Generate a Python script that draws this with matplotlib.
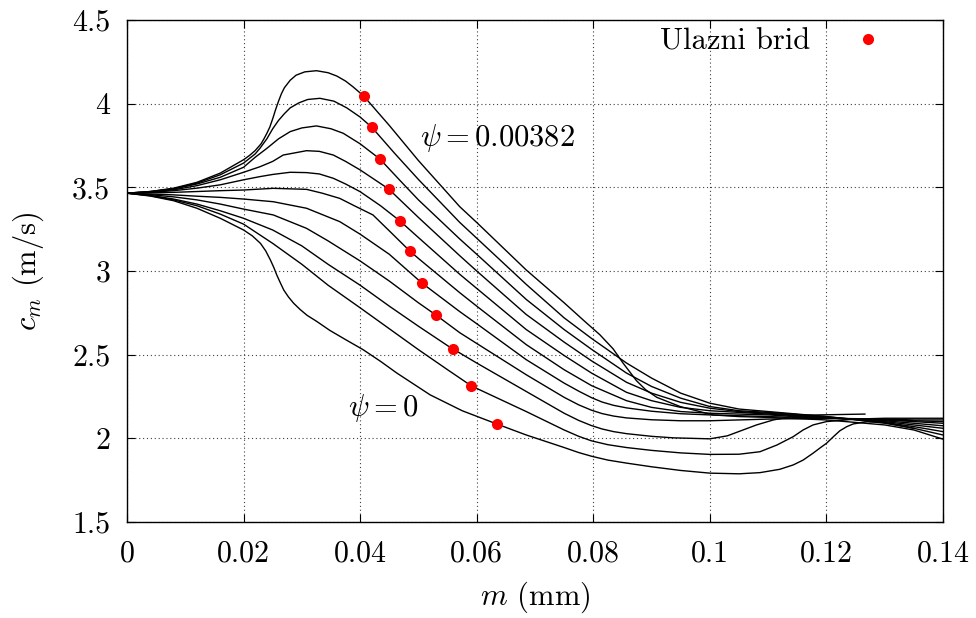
import matplotlib
matplotlib.use("Agg")
import matplotlib.pyplot as plt
from matplotlib.ticker import FuncFormatter

plt.rcParams['font.family'] = 'serif'
plt.rcParams['font.serif'] = ['cmr10']
plt.rcParams['mathtext.fontset'] = 'cm'
plt.rcParams['axes.formatter.use_mathtext'] = True

# ---- data ----
m_01 = [0, 0.004, 0.008, 0.012, 0.016, 0.02, 0.021, 0.022, 0.023, 0.0235, 0.024, 0.0245, 0.025, 0.0255, 0.026, 0.0265, 0.027, 0.028, 0.029, 0.0305, 0.0325, 0.0345, 0.036, 0.0375, 0.0388, 0.0406, 0.045, 0.05, 0.0571, 0.06, 0.0685, 0.075, 0.0785, 0.0811, 0.0834, 0.0851, 0.0874, 0.089, 0.0909, 0.0949, 0.1005, 0.105, 0.11, 0.12, 0.13, 0.135, 0.14]
cm_01 = [3.465, 3.475, 3.495, 3.53, 3.585, 3.665, 3.69, 3.72, 3.76, 3.79, 3.823, 3.86, 3.91, 3.965, 4.015, 4.06, 4.095, 4.14, 4.17, 4.19, 4.197, 4.185, 4.165, 4.135, 4.10, 4.046, 3.87, 3.66, 3.384, 3.29, 3.006, 2.81, 2.70, 2.62, 2.535, 2.45, 2.345, 2.29, 2.245, 2.19, 2.14, 2.13, 2.125, 2.11, 2.08, 2.05, 1.995]

m_02 = [0, 0.004, 0.008, 0.012, 0.016, 0.02, 0.022, 0.0228, 0.024, 0.025, 0.026, 0.027, 0.028, 0.0295, 0.031, 0.0331, 0.0355, 0.0377, 0.04, 0.042, 0.046, 0.05, 0.0571, 0.06, 0.0685, 0.075, 0.0797, 0.0857, 0.09, 0.095, 0.1, 0.105, 0.11, 0.12, 0.13, 0.135, 0.14]
cm_02 = [3.465, 3.475, 3.492, 3.525, 3.575, 3.645, 3.70, 3.733, 3.79, 3.85, 3.90, 3.94, 3.975, 4.005, 4.025, 4.032, 4.015, 3.975, 3.92, 3.859, 3.70, 3.547, 3.29, 3.196, 2.92, 2.72, 2.597, 2.45, 2.36, 2.27, 2.21, 2.175, 2.16, 2.13, 2.09, 2.06, 2.02]

m_03 = [0, 0.004, 0.008, 0.012, 0.016, 0.02, 0.022, 0.024, 0.026, 0.028, 0.030, 0.0325, 0.035, 0.0371, 0.04, 0.0434, 0.047, 0.05, 0.0571, 0.06, 0.0685, 0.075, 0.0797, 0.0857, 0.09, 0.095, 0.1, 0.105, 0.11, 0.12, 0.13, 0.135, 0.14]
cm_03 = [3.465, 3.474, 3.49, 3.52, 3.56, 3.62, 3.68, 3.733, 3.79, 3.833, 3.855, 3.867, 3.85, 3.823, 3.76, 3.669, 3.535, 3.425, 3.191, 3.10, 2.83, 2.65, 2.532, 2.39, 2.31, 2.24, 2.19, 2.165, 2.155, 2.13, 2.095, 2.07, 2.04]

m_04 = [0, 0.004, 0.008, 0.012, 0.016, 0.02, 0.0228, 0.025, 0.0268, 0.0308, 0.033, 0.0354, 0.0375, 0.040, 0.0449, 0.05, 0.0571, 0.06, 0.0685, 0.075, 0.0797, 0.0857, 0.09, 0.095, 0.1, 0.105, 0.11, 0.12, 0.13, 0.135, 0.14]
cm_04 = [3.465, 3.472, 3.485, 3.51, 3.545, 3.59, 3.623, 3.655, 3.693, 3.719, 3.715, 3.693, 3.655, 3.604, 3.49, 3.32, 3.091, 3.00, 2.74, 2.575, 2.463, 2.335, 2.27, 2.215, 2.18, 2.16, 2.15, 2.125, 2.10, 2.08, 2.06]

m_05 = [0, 0.004, 0.008, 0.012, 0.016, 0.02, 0.0228, 0.025, 0.028, 0.0308, 0.033, 0.0354, 0.0375, 0.040, 0.0435, 0.0468, 0.05, 0.0571, 0.06, 0.0685, 0.075, 0.0797, 0.0857, 0.09, 0.095, 0.1, 0.105, 0.11, 0.12, 0.13, 0.135, 0.14]
cm_05 = [3.465, 3.47, 3.48, 3.495, 3.515, 3.545, 3.564, 3.577, 3.590, 3.588, 3.58, 3.554, 3.52, 3.474, 3.39, 3.30, 3.20, 2.98, 2.896, 2.65, 2.495, 2.39, 2.275, 2.225, 2.185, 2.165, 2.155, 2.145, 2.125, 2.105, 2.09, 2.075]

m_06 = [0, 0.004, 0.008, 0.012, 0.016, 0.02, 0.0251, 0.0308, 0.0335, 0.0365, 0.039, 0.0422, 0.045, 0.0485, 0.05, 0.0571, 0.06, 0.0685, 0.075, 0.0797, 0.0857, 0.09, 0.095, 0.1, 0.105, 0.11, 0.12, 0.13, 0.135, 0.14]
cm_06 = [3.465, 3.467, 3.47, 3.475, 3.48, 3.484, 3.494, 3.488, 3.465, 3.434, 3.39, 3.335, 3.24, 3.12, 3.075, 2.87, 2.79, 2.56, 2.41, 2.315, 2.225, 2.185, 2.16, 2.15, 2.145, 2.14, 2.12, 2.11, 2.10, 2.09]

m_07 = [0, 0.004, 0.008, 0.012, 0.016, 0.02, 0.0251, 0.0308, 0.0365, 0.04, 0.045, 0.0506, 0.0571, 0.06, 0.0685, 0.075, 0.0775, 0.0797, 0.0815, 0.0835, 0.0857, 0.09, 0.095, 0.1, 0.105, 0.11, 0.12, 0.13, 0.135, 0.14]
cm_07 = [3.465, 3.46, 3.455, 3.447, 3.44, 3.43, 3.414, 3.375, 3.295, 3.22, 3.10, 2.928, 2.757, 2.685, 2.47, 2.33, 2.282, 2.243, 2.217, 2.197, 2.182, 2.162, 2.147, 2.14, 2.135, 2.13, 2.12, 2.11, 2.105, 2.10]

m_08 = [0, 0.004, 0.008, 0.012, 0.016, 0.02, 0.0251, 0.0308, 0.0345, 0.04, 0.045, 0.05, 0.053, 0.0571, 0.06, 0.0685, 0.075, 0.0775, 0.0797, 0.0815, 0.0835, 0.0857, 0.09, 0.095, 0.1, 0.105, 0.11, 0.12, 0.13, 0.135, 0.14]
cm_08 = [3.465, 3.456, 3.443, 3.425, 3.40, 3.37, 3.335, 3.255, 3.18, 3.06, 2.94, 2.81, 2.737, 2.631, 2.567, 2.38, 2.245, 2.2, 2.168, 2.148, 2.133, 2.122, 2.111, 2.105, 2.105, 2.11, 2.115, 2.12, 2.115, 2.11, 2.11]

m_09 = [0, 0.004, 0.008, 0.012, 0.016, 0.02, 0.025, 0.03, 0.0345, 0.04, 0.045, 0.05, 0.0559, 0.0571, 0.06, 0.0685, 0.075, 0.0775, 0.0797, 0.0815, 0.0835, 0.0857, 0.09, 0.0937, 0.1, 0.103, 0.1057, 0.108, 0.1109, 0.114, 0.1172, 0.1266]
cm_09 = [3.465, 3.452, 3.43, 3.40, 3.36, 3.315, 3.245, 3.15, 3.04, 2.915, 2.79, 2.67, 2.533, 2.51, 2.45, 2.28, 2.15, 2.107, 2.076, 2.056, 2.04, 2.028, 2.012, 2.003, 1.997, 2.015, 2.05, 2.08, 2.11, 2.13, 2.139, 2.145]

m_10 = [0, 0.004, 0.008, 0.012, 0.016, 0.02, 0.025, 0.03, 0.0345, 0.04, 0.045, 0.05, 0.055, 0.0591, 0.0685, 0.075, 0.0775, 0.0797, 0.0825, 0.0857, 0.09, 0.095, 0.1, 0.105, 0.1086, 0.1115, 0.1143, 0.116, 0.1177, 0.12, 0.125, 0.13, 0.135, 0.14]
cm_10 = [3.465, 3.45, 3.425, 3.39, 3.34, 3.28, 3.165, 3.04, 2.915, 2.78, 2.655, 2.53, 2.41, 2.313, 2.16, 2.05, 2.012, 1.985, 1.962, 1.945, 1.928, 1.913, 1.904, 1.905, 1.92, 1.96, 2.01, 2.05, 2.08, 2.10, 2.115, 2.12, 2.12, 2.12]

m_11 = [0, 0.004, 0.008, 0.012, 0.016, 0.02, 0.0215, 0.0229, 0.0238, 0.0246, 0.0252, 0.0257, 0.0263, 0.0269, 0.0277, 0.0286, 0.0297, 0.0309, 0.0325, 0.0348, 0.0375, 0.0405, 0.0435, 0.0463, 0.052, 0.0575, 0.0635, 0.0685, 0.075, 0.0775, 0.0797, 0.0825, 0.0857, 0.09, 0.095, 0.1, 0.105, 0.1086, 0.112, 0.1143, 0.116, 0.1177, 0.119, 0.12, 0.1212, 0.1223, 0.1235, 0.1246, 0.1269, 0.13, 0.135]
cm_11 = [3.465, 3.448, 3.42, 3.375, 3.315, 3.245, 3.21, 3.165, 3.12, 3.066, 3.02, 2.976, 2.93, 2.886, 2.845, 2.807, 2.77, 2.735, 2.70, 2.645, 2.59, 2.53, 2.46, 2.39, 2.26, 2.165, 2.085, 2.02, 1.945, 1.915, 1.893, 1.87, 1.852, 1.83, 1.808, 1.792, 1.788, 1.795, 1.815, 1.841, 1.87, 1.911, 1.945, 1.97, 2.01, 2.045, 2.07, 2.086, 2.099, 2.095, 2.06]

# leading edge points ("Ulazni brid")
le_m = [0.0406, 0.0420, 0.0434, 0.0449, 0.0468, 0.0485, 0.0506, 0.0530, 0.0559, 0.0591, 0.0635]
le_cm = [4.046, 3.859, 3.669, 3.490, 3.300, 3.120, 2.928, 2.737, 2.533, 2.313, 2.085]

x_ticks = [0, 0.02, 0.04, 0.06, 0.08, 0.1, 0.12, 0.14]
y_ticks = [1.5, 2, 2.5, 3, 3.5, 4, 4.5]

curves = [(m_01, cm_01), (m_02, cm_02), (m_03, cm_03), (m_04, cm_04), (m_05, cm_05),
          (m_06, cm_06), (m_07, cm_07), (m_08, cm_08), (m_09, cm_09), (m_10, cm_10),
          (m_11, cm_11)]

fig = plt.figure(figsize=(9.76, 6.18), dpi=100)
ax = fig.add_axes([127/976, 1-522/618, 816/976, 502/618])

for mx, cy in curves:
    ax.plot(mx, cy, color='black', lw=1.0, zorder=3, solid_joinstyle='round')

ax.plot(le_m, le_cm, linestyle='none', marker='o', color='#ff0000', ms=8,
        mec='none', zorder=4, label='Ulazni brid')

ax.set_xlim(0, 0.14)
ax.set_ylim(1.5, 4.5)
ax.set_xticks(x_ticks)
ax.set_yticks(y_ticks)
fmt = FuncFormatter(lambda v, p: f'{v:g}')
ax.xaxis.set_major_formatter(fmt)
ax.yaxis.set_major_formatter(fmt)
ax.tick_params(direction='in', top=True, right=True, length=6, width=0.8,
               labelsize=21.5)
ax.tick_params(axis='x', pad=13)
ax.tick_params(axis='y', pad=12)
ax.grid(True, linestyle=(0, (1, 2.5)), color='0.25', lw=0.8)
for s in ax.spines.values():
    s.set_linewidth(1.0)

ax.set_xlabel('$m$ (mm)', fontsize=22, labelpad=9)
ax.set_ylabel('$c_m$ (m/s)', fontsize=22, labelpad=19)

ax.text(0.0503, 3.795, r'$\psi = 0.00382$', fontsize=22, ha='left', va='center', zorder=5)
ax.text(0.0379, 2.181, r'$\psi = 0$', fontsize=22, ha='left', va='center', zorder=5)

ax.legend(loc='center right', bbox_to_anchor=(0.9424, 0.956), borderaxespad=0,
          frameon=False, markerfirst=False, fontsize=22, handlelength=1.0,
          handletextpad=1.4, numpoints=1)

fig.savefig('out.png', dpi=100)
